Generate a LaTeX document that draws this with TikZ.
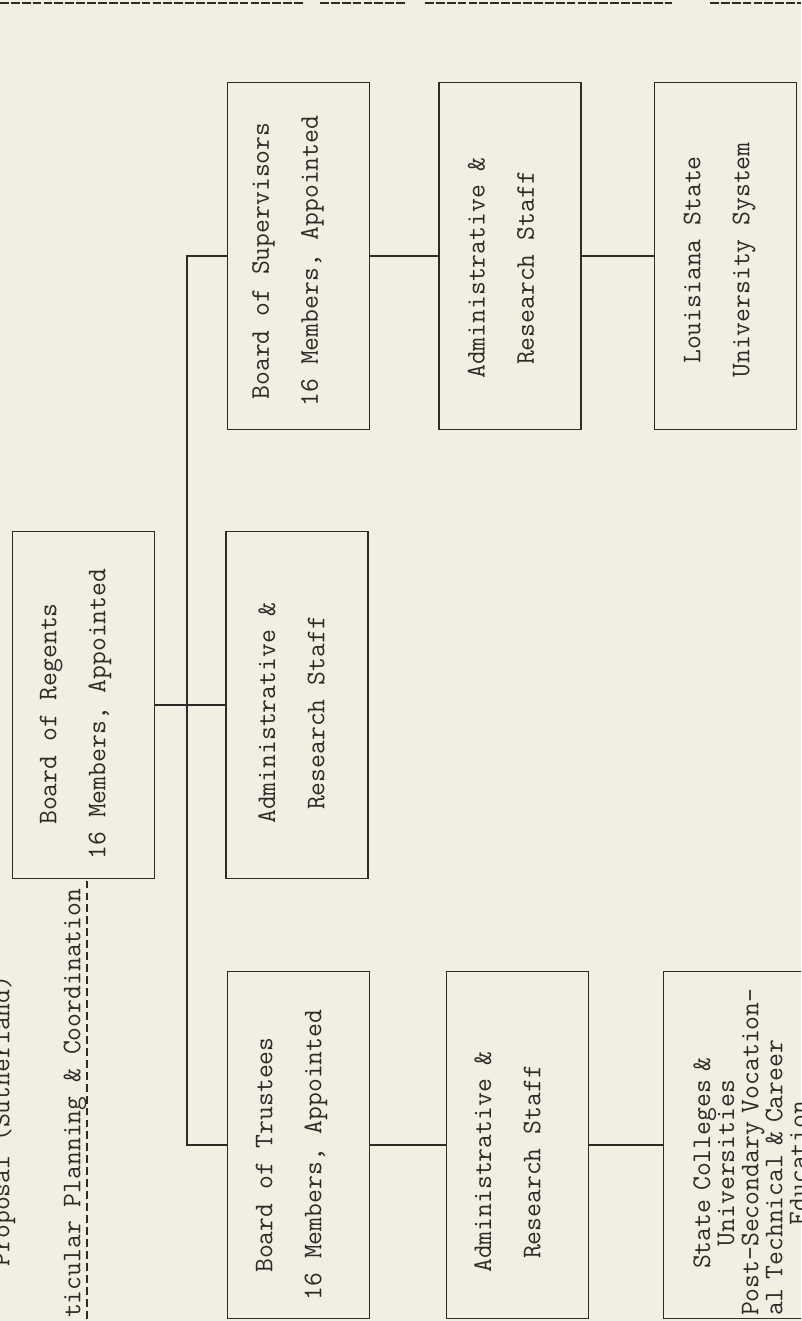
\documentclass[tikz,border=0pt]{standalone}
\usetikzlibrary{positioning}

\definecolor{paper}{RGB}{241,238,226}
\definecolor{ink}{RGB}{45,43,40}
\newcommand{\typewr}{\ttfamily\fontsize{15.3}{27.9}\selectfont}
\newcommand{\typewrsingle}{\ttfamily\fontsize{15.3}{13.7}\selectfont}

\tikzset{
  orgbox/.style={draw, minimum width=2.84cm, minimum height=6.94cm, inner sep=0pt},
  boxtext/.style={rotate=90, inner sep=0pt, align=center, font=\typewr},
  header/.style={rotate=90, inner sep=0pt, font=\typewr},
  underl/.style={dash pattern=on 4.5pt off 2.3pt},
  topline/.style={line width=1.2pt, dash pattern=on 5pt off 1.2pt}
}

\begin{document}
\begin{tikzpicture}[x=0.02cm, y=-0.02cm, color=ink, line width=0.8pt]

  % 画布
  \useasboundingbox (0,0) rectangle (801,1321);
  \clip (0,0) rectangle (801,1321);
  \fill[paper] (0,0) rectangle (801,1321);

  % 顶部虚线
  \draw[topline] (0,3) -- (305,3);
  \draw[topline] (320,3) -- (405,3);
  \draw[topline] (425,3) -- (672,3);
  \draw[topline] (710,3) -- (801,3);

  % 标题
  \node[header, anchor=west] (title) at (3,1267) {Proposal (Sutherland)};
  \node[header, anchor=east] (plan) at (75,888) {ticular Planning \& Coordination};

  % 第一层
  \node[orgbox] (reg) at (83.5,705) {};
  \node[boxtext] (regtext) at (75.5,714) {Board of Regents\\16 Members, Appointed};

  % 第二层
  \node[orgbox] (sup) at (298.5,256) {};
  \node[boxtext] (suptext) at (288,261) {Board of Supervisors\\16 Members, Appointed};
  \node[orgbox] (adm2) at (297,705) {};
  \node[boxtext] (adm2text) at (291.5,713) {Administrative \&\\Research Staff};
  \node[orgbox] (tru) at (298.5,1145) {};
  \node[boxtext] (trutext) at (291.5,1155) {Board of Trustees\\16 Members, Appointed};

  % 第三层
  \node[orgbox] (adm1) at (510,256) {};
  \node[boxtext] (adm1text) at (501,268) {Administrative \&\\Research Staff};
  \node[orgbox] (adm3) at (517.5,1145) {};
  \node[boxtext] (adm3text) at (507.5,1162) {Administrative \&\\Research Staff};

  % 第四层
  \node[orgbox] (lsu) at (725.5,256) {};
  \node[boxtext] (lsutext) at (719.5,260) {Louisiana State\\University System};
  \node[orgbox] (scu) at (734.5,1145) {};
  \node[boxtext, font=\typewrsingle, align=left, text width=194.6pt] (scutext) at (750,1145)
    {\makebox[\hsize]{State Colleges \&\hspace{0.72cm}}\\
     \makebox[\hsize]{Universities\hspace{0.72cm}}\\
     Post-Secondary Vocation-\\
     al Technical \& Career\\
     \makebox[\hsize]{Education\hspace{0.72cm}}};

  % 虚线
  \draw[underl] (plan.south west) -- (plan.south east |- reg.south);

  % 连线
  \draw (sup.west) -- ++(-40,0) |- (tru.west);
  \draw (reg.east) -- (adm2.west);
  \draw (sup.east) -- (adm1.west);
  \draw (adm1.east) -- (lsu.west);
  \draw (tru.east) -- (adm3.west);
  \draw (adm3.east) -- (scu.west);
\end{tikzpicture}
\end{document}
